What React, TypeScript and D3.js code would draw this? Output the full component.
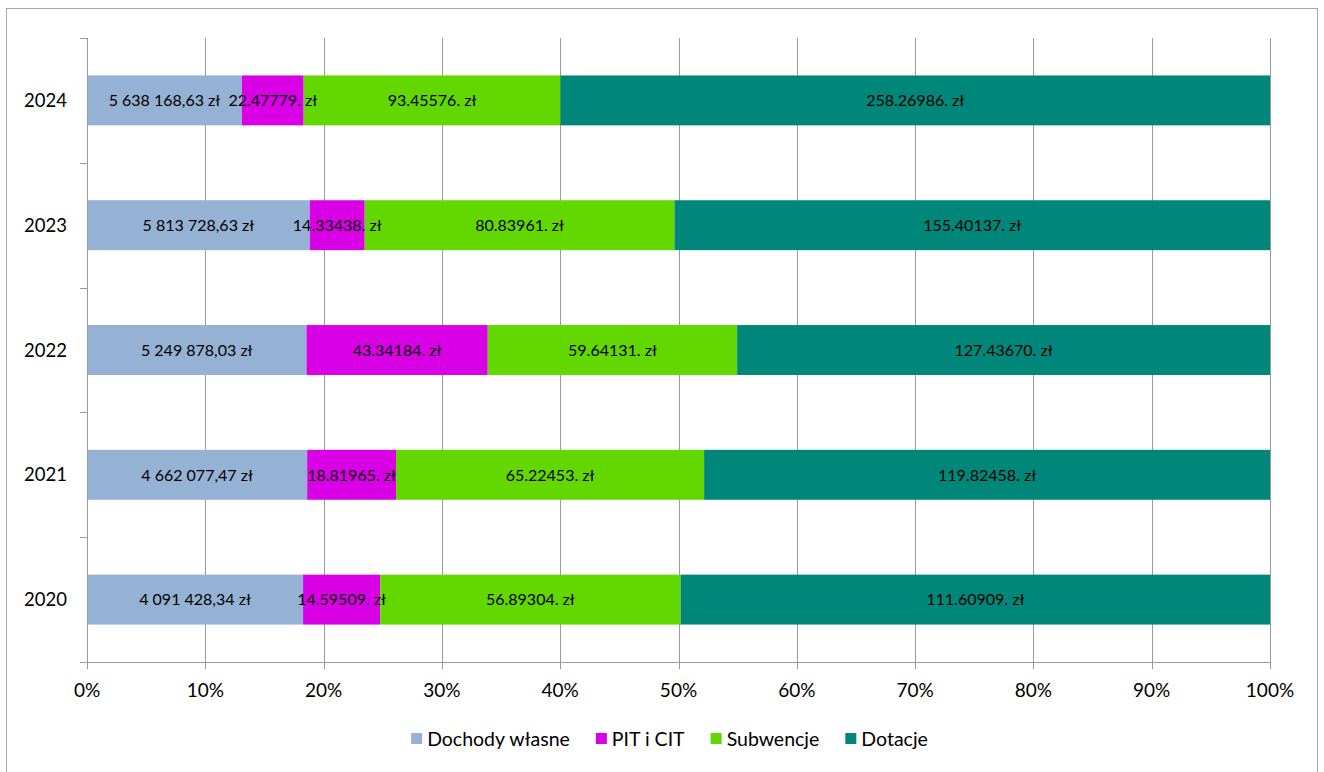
import React, { useEffect, useRef } from "react";
import * as d3 from "d3";

const years = ["2024", "2023", "2022", "2021", "2020"];
const seriesNames = ["Dochody własne", "PIT i CIT", "Subwencje", "Dotacje"];
const seriesColors = ["#95B1D3", "#D900E6", "#62D800", "#00877A"];
const dochodyWlasne = [5638168.63, 5813728.63, 5249878.03, 4662077.47, 4091428.34];
const pitCit = [2247779, 1433438, 4334184, 1881965, 1459509];
const subwencje = [9345576, 8083961, 5964131, 6522453, 5689304];
const dotacje = [25826986, 15540137, 12743670, 11982458, 11160909];
const dochodyLabels = ["5 638 168,63 zł", "5 813 728,63 zł", "5 249 878,03 zł", "4 662 077,47 zł", "4 091 428,34 zł"];
const pitLabels = ["22.47779. zł", "14.33438. zł", "43.34184. zł", "18.81965. zł", "14.59509. zł"];
const subLabels = ["93.45576. zł", "80.83961. zł", "59.64131. zł", "65.22453. zł", "56.89304. zł"];
const dotLabels = ["258.26986. zł", "155.40137. zł", "127.43670. zł", "119.82458. zł", "111.60909. zł"];
const xTicks = [0, 0.1, 0.2, 0.3, 0.4, 0.5, 0.6, 0.7, 0.8, 0.9, 1];

const W = 1324, H = 772;
const FONT = "Lato, 'Open Sans', sans-serif";

export default function App() {
  const ref = useRef<SVGSVGElement>(null);
  useEffect(() => {
    const svg = d3.select(ref.current);
    svg.selectAll("*").remove();
    const left = 87, right = 1270, top = 38, bottom = 662;
    const x = d3.scaleLinear().domain([0, 1]).range([left, right]);
    const y = d3.scaleBand().domain(years).range([top, bottom]).paddingInner(0.6).paddingOuter(0.3);

    svg.append("rect").attr("x", 6.5).attr("y", 8.5).attr("width", 1311).attr("height", 800)
      .attr("fill", "white").attr("stroke", "#a6a6a6").attr("stroke-width", 1);

    const g = svg.append("g");
    g.selectAll("line.grid").data(xTicks.slice(1)).enter().append("line")
      .attr("x1", d => Math.round(x(d)) + 0.5).attr("x2", d => Math.round(x(d)) + 0.5)
      .attr("y1", top).attr("y2", bottom)
      .attr("stroke", "#9a9a9a").attr("stroke-width", 1);

    const seriesVals = [dochodyWlasne, pitCit, subwencje, dotacje];
    const seriesLabels = [dochodyLabels, pitLabels, subLabels, dotLabels];
    const rows = years.map((yr, i) => {
      const o: any = { year: yr };
      seriesNames.forEach((s, j) => (o[s] = seriesVals[j][i]));
      return o;
    });
    const stack = d3.stack().keys(seriesNames).offset(d3.stackOffsetExpand);
    const stacked = stack(rows);
    stacked.forEach((layer, j) => {
      g.append("g").selectAll("rect").data(layer).enter().append("rect")
        .attr("x", d => x(d[0])).attr("width", d => x(d[1]) - x(d[0]))
        .attr("y", (d: any) => y(d.data.year)!).attr("height", y.bandwidth())
        .attr("fill", seriesColors[j]);
    });
    stacked.forEach((layer, j) => {
      g.append("g").selectAll("text").data(layer).enter().append("text")
        .attr("x", d => (x(d[0]) + x(d[1])) / 2)
        .attr("y", (d: any) => y(d.data.year)! + y.bandwidth() / 2)
        .attr("dy", "0.36em").attr("text-anchor", "middle")
        .attr("font-family", FONT).attr("font-size", 16).attr("fill", "#000")
        .text((d, i) => seriesLabels[j][i]);
    });

    // x axis
    g.append("line").attr("x1", left).attr("x2", right).attr("y1", bottom + 0.5).attr("y2", bottom + 0.5)
      .attr("stroke", "#9a9a9a");
    g.selectAll("line.xt").data(xTicks).enter().append("line")
      .attr("x1", d => Math.round(x(d)) + 0.5).attr("x2", d => Math.round(x(d)) + 0.5)
      .attr("y1", bottom).attr("y2", bottom + 7).attr("stroke", "#9a9a9a");
    g.selectAll("text.xl").data(xTicks).enter().append("text")
      .attr("x", d => x(d)).attr("y", bottom + 35).attr("text-anchor", "middle")
      .attr("font-family", FONT).attr("font-size", 19).attr("fill", "#000")
      .text(d => d3.format(".0%")(d));

    // y axis
    g.append("line").attr("x1", left + 0.5).attr("x2", left + 0.5).attr("y1", top).attr("y2", bottom)
      .attr("stroke", "#9a9a9a");
    const step = (bottom - top) / years.length;
    g.selectAll("line.yt").data(d3.range(years.length + 1)).enter().append("line")
      .attr("x1", left - 7).attr("x2", left).attr("y1", i => Math.round(top + i * step) + 0.5)
      .attr("y2", i => Math.round(top + i * step) + 0.5).attr("stroke", "#9a9a9a");
    g.selectAll("text.yl").data(years).enter().append("text")
      .attr("x", 67).attr("y", d => y(d)! + y.bandwidth() / 2).attr("dy", "0.36em")
      .attr("text-anchor", "end").attr("font-family", FONT).attr("font-size", 18.5).attr("fill", "#000")
      .text(d => d);

    // legend
    const lg = svg.append("g");
    const items = lg.selectAll("g").data(seriesNames).enter().append("g");
    items.append("rect").attr("width", 11).attr("height", 11).attr("y", -13)
      .attr("fill", (d, i) => seriesColors[i]);
    const texts = items.append("text").attr("x", 16).attr("y", 0)
      .attr("font-family", FONT).attr("font-size", 19.5).attr("fill", "#000").text(d => d);
    const widths: number[] = [];
    texts.each(function () { widths.push((this as SVGTextElement).getComputedTextLength()); });
    const gap = 26;
    const total = widths.reduce((a, w) => a + 16 + w, 0) + gap * (widths.length - 1);
    let cx = 669.5 - total / 2;
    items.each(function (_d, i) {
      d3.select(this).attr("transform", `translate(${cx},746)`);
      cx += 16 + widths[i] + gap;
    });
  }, []);
  return (
    <svg ref={ref} width={W} height={H} style={{ position: "absolute", left: 0, top: 0, background: "white" }} />
  );
}
